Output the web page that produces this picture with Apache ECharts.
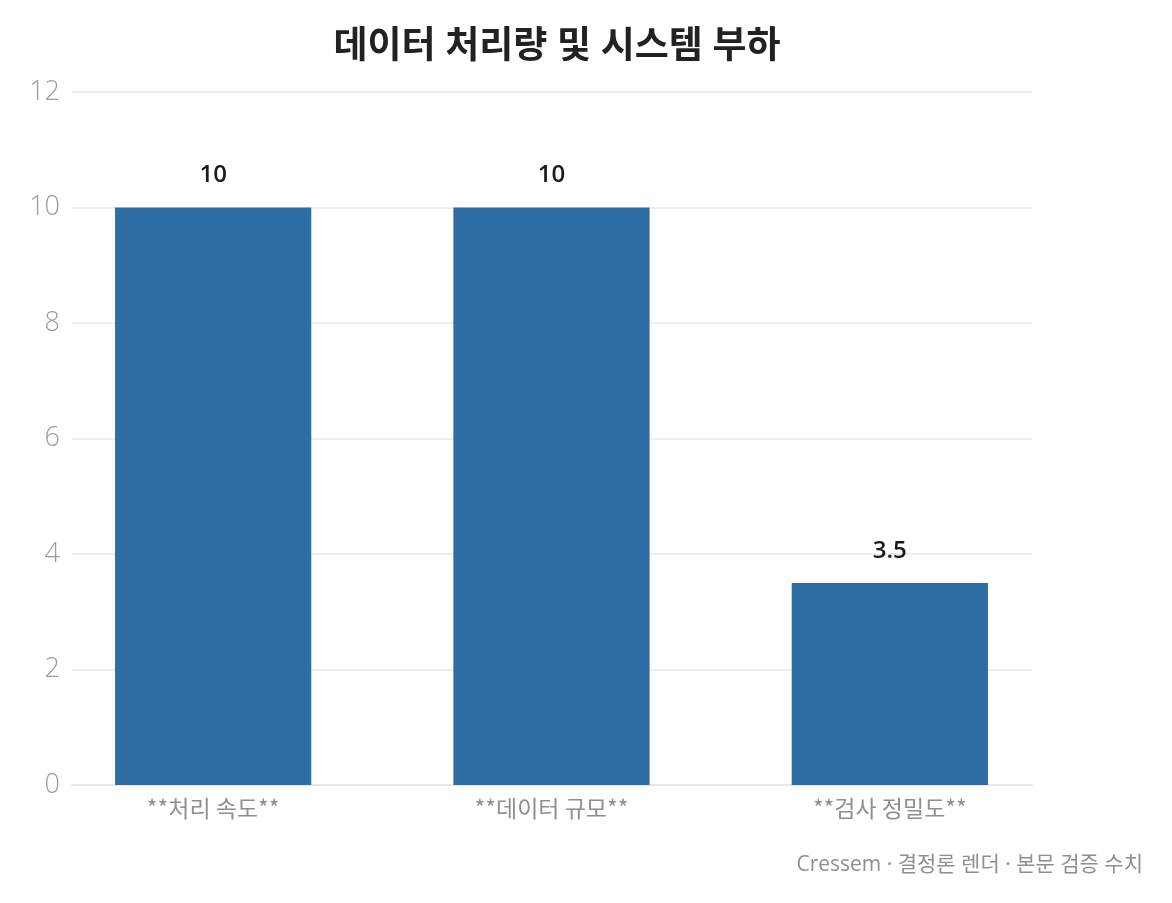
<!DOCTYPE html>
<html>
<head>
<meta charset="utf-8">
<script src="https://cdn.jsdelivr.net/npm/echarts@6/dist/echarts.min.js"></script>
<style>
html, body { margin: 0; padding: 0; background: #fff; }
#main { width: 1172px; height: 903px; }
</style>
</head>
<body>
<div id="main"></div>
<script>
// 차트 데이터
var categories = ['**처리 속도**', '**데이터 규모**', '**검사 정밀도**'];
var values = [10, 10, 3.5];
var yTicks = { min: 0, max: 12, interval: 2 };

var FONT = '"Open Sans", "Noto Sans CJK KR", sans-serif';
var KFONT = '"Noto Sans CJK KR", "Open Sans", sans-serif';
var myChart = echarts.init(document.getElementById('main'));

var option = {
    backgroundColor: '#ffffff',
    textStyle: { fontFamily: FONT },
    title: {
        text: '데이터 처리량 및 시스템 부하',
        left: 552,
        top: 24,
        textAlign: 'center',
        textStyle: { fontSize: 37, fontWeight: 'bold', color: '#222222', fontFamily: FONT }
    },
    graphic: [{
        type: 'text',
        right: 29,
        top: 855,
        style: {
            text: 'Cressem · 결정론 렌더 · 본문 검증 수치',
            fill: '#8a8f98',
            font: '21px ' + FONT
        }
    }],
    // grid 0: 눈금선/축선, grid 1: 막대와 범주 라벨
    grid: [
        { left: 72, right: 140, top: 92, bottom: 118 },
        { left: 44, right: 113, top: 92, bottom: 118 }
    ],
    xAxis: [{
        type: 'category',
        gridIndex: 0,
        data: categories,
        axisLine: { show: true, lineStyle: { color: '#e5e7eb', width: 2 } },
        axisTick: { show: false },
        axisLabel: { show: false }
    }, {
        type: 'category',
        gridIndex: 1,
        data: categories,
        axisLine: { show: false },
        axisTick: { show: false },
        axisLabel: { color: '#8a8f98', fontSize: 23, margin: 12, fontFamily: KFONT }
    }],
    yAxis: [{
        type: 'value',
        gridIndex: 0,
        min: yTicks.min,
        max: yTicks.max,
        interval: yTicks.interval,
        axisLine: { show: false },
        axisTick: { show: false },
        axisLabel: { color: '#979ca5', fontSize: 27, fontWeight: 300, margin: 12, fontFamily: FONT },
        splitLine: { lineStyle: { color: '#e8e9ec', width: 1.5 } }
    }, {
        type: 'value',
        gridIndex: 1,
        min: yTicks.min,
        max: yTicks.max,
        interval: yTicks.interval,
        show: false,
        splitLine: { show: false }
    }],
    series: [{
        type: 'bar',
        xAxisIndex: 1,
        yAxisIndex: 1,
        data: values,
        barWidth: '58%',
        itemStyle: { color: '#2e6da4' },
        label: {
            show: true,
            position: 'top',
            distance: 20,
            color: '#1a1a1a',
            fontSize: 24,
            fontWeight: 600,
            fontFamily: FONT
        }
    }]
};
myChart.setOption(option);
</script>
</body>
</html>
